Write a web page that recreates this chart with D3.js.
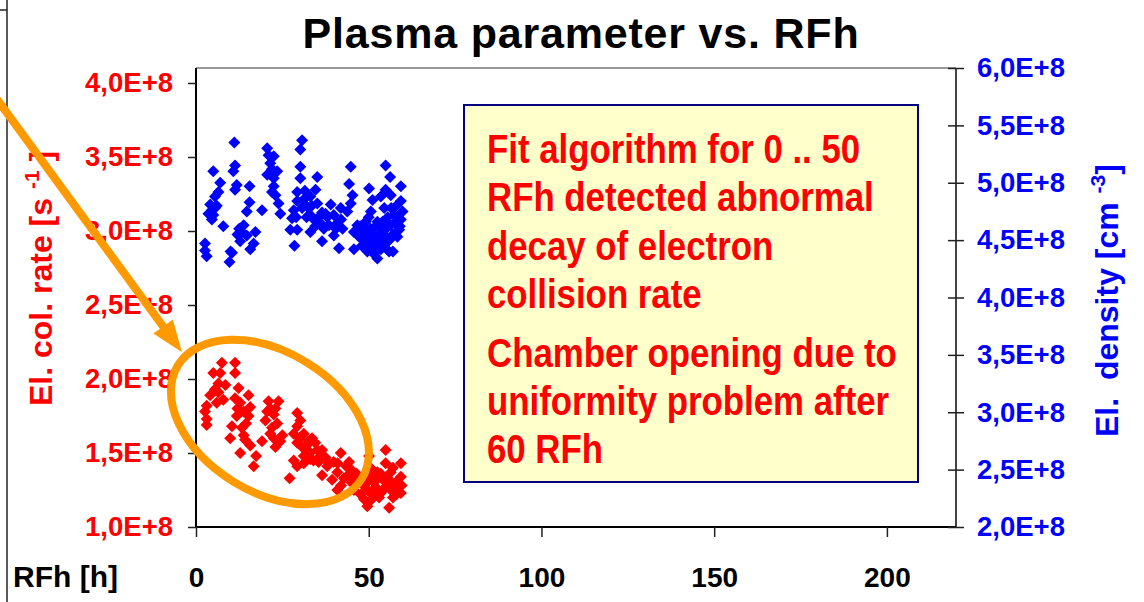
<!DOCTYPE html>
<html>
<head>
<meta charset="utf-8">
<script src="https://cdn.jsdelivr.net/npm/d3@7"></script>
<style>
	body { margin: 0; background: #fff; }
	#chart { width: 1144px; height: 602px; }
	svg { display: block; font-family: "Liberation Sans", Arial, sans-serif; font-weight: bold; }
</style>
</head>
<body>
<div id="chart"></div>
<script>
"use strict"

// tick values (rates / densities in units of 1E+8)
const rfhTicks = [0, 50, 100, 150, 200];
const rateTicks = [1.0, 1.5, 2.0, 2.5, 3.0, 3.5, 4.0];
const densityTicks = [2.0, 2.5, 3.0, 3.5, 4.0, 4.5, 5.0, 5.5, 6.0];

// electron density [cm-3], right axis
const densityRFh = [11.1, 5.0, 11.3, 10.8, 7.0, 11.8, 11.3, 15.5, 6.5, 5.5, 4.1, 4.6, 5.0, 4.6, 3.6, 7.9, 15.5, 14.7, 19.1, 13.8,
	13.3, 14.7, 17.2, 12.8, 16.7, 15.7, 2.6, 2.6, 3.1, 10.4, 9.7, 20.6, 21.0, 22.5, 21.5, 23.5, 20.6, 22.5, 22.5, 23.0,
	23.9, 24.4, 30.7, 30.2, 30.2, 30.2, 29.3, 29.3, 28.3, 27.8, 27.3, 29.3, 28.5, 30.7, 35.1, 34.6, 33.1, 35.1, 32.2, 33.1,
	34.1, 39.0, 37.5, 39.9, 41.9, 43.8, 40.9, 38.5, 42.4, 39.9, 33.1, 36.5, 41.4, 45.7, 44.8, 44.3, 45.3, 44.8, 45.7, 50.1,
	51.1, 50.6, 49.1, 48.2, 49.6, 48.6, 51.1, 49.6, 52.5, 54.9, 56.2, 59.3, 54.9, 53.5, 56.4, 59.3, 54.5, 59.8, 57.4, 54.0,
	59.3, 56.4, 53.5, 58.8, 55.4, 58.3, 52.5, 54.5, 55.9, 51.5, 47.2, 46.7, 32.0, 36.0, 37.0, 35.5, 47.5, 50.5, 52.0, 53.0,
	57.0, 55.5, 58.0, 6.0, 12.0, 22.0, 31.0, 50.0, 51.5, 53.5, 57.0, 56.5, 29.0, 31.5, 33.5, 34.5, 36.5, 38.0, 40.5, 42.0,
	49.0, 50.0, 51.0, 52.5, 53.0, 54.0, 55.0, 56.0, 57.5, 58.5, 59.0, 48.0, 22.0, 12.5, 5.5, 10.0];
const densityValues = [5.35, 5.10, 5.15, 5.10, 5.00, 4.98, 4.94, 4.97, 4.92, 4.88, 4.81, 4.76, 4.72, 4.68, 4.73, 4.62, 4.83, 4.75, 4.76, 4.63,
	4.57, 4.54, 4.57, 4.49, 4.47, 4.42, 4.47, 4.41, 4.36, 4.39, 4.31, 5.30, 5.24, 5.23, 5.17, 5.10, 5.07, 5.04, 4.97, 4.89,
	4.82, 4.73, 5.37, 5.29, 5.14, 5.04, 4.92, 4.84, 4.76, 4.69, 4.59, 4.59, 4.45, 4.78, 5.05, 4.94, 4.88, 4.82, 4.79, 4.72,
	4.68, 4.81, 4.73, 4.72, 4.78, 4.75, 4.65, 4.63, 4.60, 4.54, 4.57, 4.49, 4.43, 4.42, 5.14, 4.99, 4.89, 4.82, 4.57, 4.95,
	4.85, 4.75, 4.66, 4.57, 4.54, 4.50, 4.49, 4.40, 4.34, 5.15, 5.05, 4.97, 4.94, 4.88, 4.89, 4.84, 4.78, 4.75, 4.72, 4.66,
	4.68, 4.63, 4.59, 4.59, 4.52, 4.53, 4.50, 4.46, 4.40, 4.44, 4.53, 4.63, 4.70, 4.65, 4.60, 4.70, 4.62, 4.60, 4.62, 4.55,
	4.55, 4.70, 4.80, 4.80, 4.55, 5.12, 4.85, 4.48, 4.38, 4.42, 4.40, 4.78, 4.70, 4.93, 4.80, 4.62, 4.74, 4.70, 4.60, 4.68,
	4.60, 4.70, 4.55, 4.66, 4.48, 4.55, 4.60, 4.50, 4.65, 4.70, 4.62, 4.45, 4.92, 4.60, 4.78, 4.40];

// electron collision rate [s-1], left axis
const rateRFh = [7.5, 11.3, 5.0, 7.0, 11.3, 6.5, 12.3, 6.5, 4.1, 7.9, 15.2, 11.3, 3.1, 2.6, 12.8, 15.7, 13.8, 3.1, 3.1, 11.8,
	15.2, 21.0, 23.9, 20.6, 22.5, 20.1, 23.5, 22.0, 10.4, 13.3, 13.8, 9.9, 14.2, 19.1, 22.5, 24.4, 23.0, 15.7, 12.8, 17.4,
	16.7, 29.3, 29.3, 30.2, 28.3, 29.3, 28.3, 29.3, 27.1, 31.2, 33.6, 31.2, 30.7, 32.2, 35.1, 33.1, 36.0, 31.2, 41.9, 39.9,
	44.3, 38.0, 40.9, 36.5, 44.8, 39.4, 42.8, 45.7, 40.9, 45.7, 48.6, 50.1, 54.9, 54.9, 59.3, 52.5, 56.4, 59.3, 50.6, 54.5,
	57.8, 52.0, 49.6, 56.4, 59.3, 53.5, 47.7, 50.6, 55.9, 49.6, 58.3, 34.5, 36.5, 37.5, 38.5, 33.0, 43.5, 46.5, 47.0, 42.0,
	51.5, 53.0, 57.0, 55.0, 32.5, 35.5, 21.5, 8.5, 6.0, 14.5, 25.0, 51.0, 52.0, 53.5, 54.0, 55.5, 56.5, 58.0, 59.5, 48.5,
	49.5, 50.5, 57.0, 41.0, 44.0, 45.0, 32.0, 34.0, 30.0, 5.5, 12.0, 21.5, 23.0];
const rateValues = [2.11, 2.11, 2.04, 2.04, 2.04, 1.97, 1.94, 1.91, 1.89, 1.86, 1.89, 1.87, 1.82, 1.78, 1.84, 1.81, 1.78, 1.73, 1.69, 1.75,
	1.75, 1.85, 1.85, 1.78, 1.76, 1.72, 1.70, 1.67, 1.68, 1.67, 1.62, 1.60, 1.59, 1.58, 1.60, 1.58, 1.54, 1.55, 1.50, 1.48,
	1.41, 1.77, 1.68, 1.72, 1.63, 1.57, 1.45, 1.41, 1.33, 1.48, 1.60, 1.63, 1.54, 1.52, 1.52, 1.46, 1.48, 1.43, 1.50, 1.44,
	1.44, 1.41, 1.37, 1.35, 1.39, 1.32, 1.33, 1.32, 1.25, 1.25, 1.19, 1.48, 1.52, 1.43, 1.43, 1.37, 1.37, 1.34, 1.34, 1.31,
	1.30, 1.27, 1.25, 1.25, 1.23, 1.23, 1.22, 1.18, 1.13, 1.14, 1.27, 1.57, 1.52, 1.47, 1.43, 1.50, 1.41, 1.36, 1.30, 1.28,
	1.30, 1.20, 1.20, 1.27, 1.58, 1.44, 1.80, 1.96, 1.84, 1.70, 1.62, 1.22, 1.32, 1.36, 1.25, 1.33, 1.30, 1.22, 1.28, 1.28,
	1.30, 1.40, 1.40, 1.43, 1.35, 1.30, 1.55, 1.45, 1.60, 1.93, 1.80, 1.63, 1.80];

const noteFirst = ["Fit algorithm for 0 .. 50", "RFh detected abnormal", "decay of electron", "collision rate"];
const noteSecond = ["Chamber opening due to", "uniformity problem after", "60 RFh"];

let PlasmaChartView = function(targetID) {
	let self = {
		targetID: targetID,
		totalWidth: 1144,
		totalHeight: 602,
		margin: {left: 196, right: 188, top: 68, bottom: 75},
		width: 0,
		height: 0,
		targetSvg: null,

		xScale: d3.scaleLinear(),
		yRate: d3.scaleLinear(),
		yDensity: d3.scaleLinear(),
	};

	function eFormat(v) {
		return v.toFixed(1).replace(".", ",") + "E+8";
	}

	function initTarget() {
		self.width = self.totalWidth - self.margin.left - self.margin.right;
		self.height = self.totalHeight - self.margin.top - self.margin.bottom;

		self.targetSvg = d3.select(self.targetID).append("svg")
			.attr("width", self.totalWidth)
			.attr("height", self.totalHeight);

		let bottom = self.margin.top + self.height;
		self.xScale.domain([0, 220]).range([self.margin.left, self.margin.left + self.width]);
		// left axis top value sits a bit below the frame
		self.yRate.domain([1, 4]).range([bottom, 83]);
		self.yDensity.domain([2, 6]).range([bottom, self.margin.top]);
	}

	function drawFrame() {
		let svg = self.targetSvg;
		let l = self.margin.left, r = l + self.width, t = self.margin.top, b = t + self.height;

		// slide border
		svg.append("line").attr("x1", 7).attr("x2", 7).attr("y1", 0).attr("y2", self.totalHeight)
			.attr("stroke", "#222").attr("stroke-width", 1.5);
		svg.append("line").attr("x1", 0).attr("x2", 7).attr("y1", 10).attr("y2", 10)
			.attr("stroke", "#222").attr("stroke-width", 1.5);

		svg.append("line").attr("x1", l).attr("x2", r).attr("y1", t).attr("y2", t)
			.attr("stroke", "#333").attr("stroke-width", 1);
		svg.append("line").attr("x1", r).attr("x2", r).attr("y1", t).attr("y2", b)
			.attr("stroke", "#444").attr("stroke-width", 2);
		svg.append("line").attr("x1", l).attr("x2", l).attr("y1", t).attr("y2", b)
			.attr("stroke", "#000").attr("stroke-width", 2);
		svg.append("line").attr("x1", l).attr("x2", r).attr("y1", b).attr("y2", b)
			.attr("stroke", "#000").attr("stroke-width", 2);
	}

	function drawAxes() {
		let svg = self.targetSvg;
		let l = self.margin.left, r = l + self.width, b = self.margin.top + self.height;

		let xAxis = svg.append("g")
			.attr("transform", `translate(0,${b})`)
			.call(d3.axisBottom(self.xScale).tickValues(rfhTicks).tickSize(10).tickPadding(30));
		xAxis.selectAll("text").attr("font-size", 28).attr("fill", "#000");

		let yLeft = svg.append("g")
			.attr("transform", `translate(${l},0)`)
			.call(d3.axisLeft(self.yRate).tickValues(rateTicks).tickSize(8).tickPadding(15).tickFormat(eFormat));
		yLeft.selectAll("text").attr("font-size", 27.5).attr("fill", "#ff0000");

		let yRight = svg.append("g")
			.attr("transform", `translate(${r},0)`)
			.call(d3.axisRight(self.yDensity).tickValues(densityTicks).tickSize(8).tickPadding(13).tickFormat(eFormat));
		yRight.selectAll("line").attr("x1", -8);
		yRight.selectAll("text").attr("font-size", 27.5).attr("fill", "#0000ff");

		[xAxis, yLeft, yRight].forEach(g => g.attr("font-family", null).attr("font-size", null));
		svg.selectAll(".domain").remove();
		svg.selectAll(".tick line").attr("stroke", "#222").attr("stroke-width", 1.5);

		// titles
		svg.append("text")
			.attr("x", 581).attr("y", 48)
			.attr("text-anchor", "middle")
			.attr("font-size", 43)
			.attr("letter-spacing", 0.8)
			.attr("fill", "#000")
			.text("Plasma parameter vs. RFh");

		svg.append("text")
			.attr("x", 13).attr("y", 587)
			.attr("font-size", 30)
			.attr("fill", "#000")
			.text("RFh [h]");

		let leftLabel = svg.append("text")
			.attr("transform", "translate(52,406) rotate(-90)")
			.attr("font-size", 32)
			.attr("fill", "#ff0000");
		leftLabel.append("tspan").text("El. col. rate [s ");
		leftLabel.append("tspan").attr("font-size", 21).attr("dy", -13).text("-1");
		leftLabel.append("tspan").attr("dy", 13).text(" ]");

		let rightLabel = svg.append("text")
			.attr("transform", "translate(1118,437) rotate(-90)")
			.attr("font-size", 32)
			.attr("fill", "#0000ff")
			.attr("xml:space", "preserve");
		rightLabel.append("tspan").text("El.  density [cm ");
		rightLabel.append("tspan").attr("font-size", 21).attr("dy", -13).text("-3");
		rightLabel.append("tspan").attr("dy", 13).text("]");
	}

	function drawNote() {
		let svg = self.targetSvg;
		svg.append("rect")
			.attr("x", 464).attr("y", 105)
			.attr("width", 454).attr("height", 377)
			.attr("fill", "#ffffcc")
			.attr("stroke", "#000080")
			.attr("stroke-width", 2);

		let g = svg.append("g")
			.attr("transform", "translate(487,0) scale(0.87,1)")
			.attr("font-size", 40)
			.attr("fill", "#ff0000");
		g.selectAll(".first").data(noteFirst).enter().append("text")
			.attr("class", "first")
			.attr("x", 0).attr("y", (d, i) => 163 + i * 48.5)
			.text(d => d);
		g.selectAll(".second").data(noteSecond).enter().append("text")
			.attr("class", "second")
			.attr("x", 0).attr("y", (d, i) => 367 + i * 48.2)
			.text(d => d);
	}

	function drawPoints() {
		let diamond = d3.symbol().type(d3.symbolSquare).size(72);

		self.targetSvg.append("g").selectAll("path")
			.data(densityRFh.map((x, i) => ({x: x, y: densityValues[i]})))
			.enter().append("path")
				.attr("d", diamond)
				.attr("transform", d => `translate(${self.xScale(d.x)},${self.yDensity(d.y)}) rotate(45)`)
				.attr("fill", "#0000ff");

		self.targetSvg.append("g").selectAll("path")
			.data(rateRFh.map((x, i) => ({x: x, y: rateValues[i]})))
			.enter().append("path")
				.attr("d", diamond)
				.attr("transform", d => `translate(${self.xScale(d.x)},${self.yRate(d.y)}) rotate(45)`)
				.attr("fill", "#ff0000");
	}

	function drawAnnotation() {
		let svg = self.targetSvg;
		let orange = "#ff9900";

		// ellipse around the decaying collision rate
		let cx = self.xScale(21.4), cy = self.yRate(1.71);
		svg.append("ellipse")
			.attr("transform", `translate(${cx},${cy}) rotate(31.6)`)
			.attr("rx", 108).attr("ry", 70)
			.attr("fill", "none")
			.attr("stroke", orange)
			.attr("stroke-width", 8);

		// arrow coming in from the upper left
		let tx = self.xScale(-4.05), ty = self.yRate(2.18);
		let ang = Math.atan2(249, 182);
		let ux = Math.cos(ang), uy = Math.sin(ang);
		let headLen = 32, headW = 12;
		let bx = tx - headLen * ux, by = ty - headLen * uy;
		svg.append("line")
			.attr("x1", tx - 320 * ux).attr("y1", ty - 320 * uy)
			.attr("x2", bx + 2 * ux).attr("y2", by + 2 * uy)
			.attr("stroke", orange)
			.attr("stroke-width", 8);
		svg.append("path")
			.attr("d", `M${tx},${ty}L${bx - headW * uy},${by + headW * ux}L${bx + headW * uy},${by - headW * ux}Z`)
			.attr("fill", orange);
	}

	function draw() {
		initTarget();
		drawFrame();
		drawAxes();
		drawNote();
		drawPoints();
		drawAnnotation();
	}

	return {
		draw,
	};
};

PlasmaChartView("#chart").draw();
</script>
</body>
</html>
